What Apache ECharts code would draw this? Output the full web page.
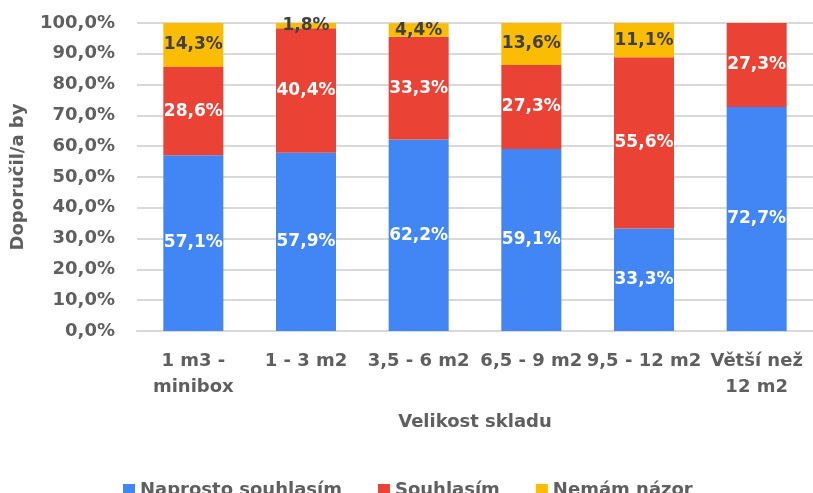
<!DOCTYPE html>
<html>
<head>
<meta charset="utf-8">
<script src="https://cdn.jsdelivr.net/npm/echarts@6/dist/echarts.min.js"></script>
<style>
  html, body { margin: 0; padding: 0; background: #fff; }
  #chart { width: 813px; height: 493px; }
</style>
</head>
<body>
<div id="chart"></div>
<script>
// Storage size categories
const categories = ['1 m3 -\nminibox', '1 - 3 m2', '3,5 - 6 m2', '6,5 - 9 m2', '9,5 - 12 m2', 'Větší než\n12 m2'];
// Share of answers per category (%)
const naprostoSouhlasim = [57.1, 57.9, 62.2, 59.1, 33.3, 72.7];
const souhlasim = [28.6, 40.4, 33.3, 27.3, 55.6, 27.3];
const nemamNazor = [14.3, 1.8, 4.4, 13.6, 11.1, 0];
const seriesNames = ['Naprosto souhlasím', 'Souhlasím', 'Nemám názor'];
const yTicks = { min: 0, max: 100, interval: 10 };

const FONT = 'DejaVu Sans';
const TEXT_GRAY = '#5f5f5f';
const fmtPct = v => v.toFixed(1).replace('.', ',') + '%';

function makeSeries(name, data, color, labelColor) {
  return {
    name: name,
    type: 'bar',
    stack: 'total',
    barWidth: 60,
    data: data,
    itemStyle: { color: color },
    label: {
      show: true,
      position: 'inside',
      color: labelColor,
      fontFamily: FONT,
      fontSize: 17,
      fontWeight: 'bold',
      formatter: p => (p.value > 0 ? fmtPct(p.value) : '')
    }
  };
}

const chart = echarts.init(document.getElementById('chart'), null, { renderer: 'canvas' });
chart.setOption({
  animation: false,
  textStyle: { fontFamily: FONT },
  grid: { left: 137, right: -5, top: 23, bottom: 162, containLabel: false },
  legend: {
    data: seriesNames,
    left: 118,
    top: 476,
    icon: 'rect',
    itemWidth: 12,
    itemHeight: 12,
    itemGap: 36,
    textStyle: { fontFamily: FONT, fontSize: 18, fontWeight: 'bold', color: TEXT_GRAY }
  },
  xAxis: {
    type: 'category',
    data: categories,
    name: 'Velikost skladu',
    nameLocation: 'middle',
    nameGap: 82,
    nameTextStyle: { fontFamily: FONT, fontSize: 18, fontWeight: 'bold', color: TEXT_GRAY },
    axisLine: { lineStyle: { color: '#d9d9d9', width: 2 } },
    axisTick: { show: false },
    axisLabel: {
      interval: 0,
      margin: 17,
      fontFamily: FONT,
      fontSize: 18,
      fontWeight: 'bold',
      color: TEXT_GRAY,
      lineHeight: 26
    }
  },
  yAxis: {
    type: 'value',
    min: yTicks.min,
    max: yTicks.max,
    interval: yTicks.interval,
    name: 'Doporučil/a by',
    nameLocation: 'middle',
    nameGap: 110,
    nameRotate: 90,
    nameTextStyle: { fontFamily: FONT, fontSize: 18, fontWeight: 'bold', color: TEXT_GRAY },
    axisLine: { show: false },
    axisTick: { show: false },
    splitLine: { lineStyle: { color: '#d9d9d9', width: 2 } },
    axisLabel: {
      margin: 22,
      fontFamily: FONT,
      fontSize: 18,
      fontWeight: 'bold',
      color: TEXT_GRAY,
      formatter: v => fmtPct(v)
    }
  },
  series: [
    makeSeries(seriesNames[0], naprostoSouhlasim, '#4285F4', '#ffffff'),
    makeSeries(seriesNames[1], souhlasim, '#EA4335', '#ffffff'),
    makeSeries(seriesNames[2], nemamNazor, '#FBBC04', '#404040')
  ]
});
</script>
</body>
</html>
